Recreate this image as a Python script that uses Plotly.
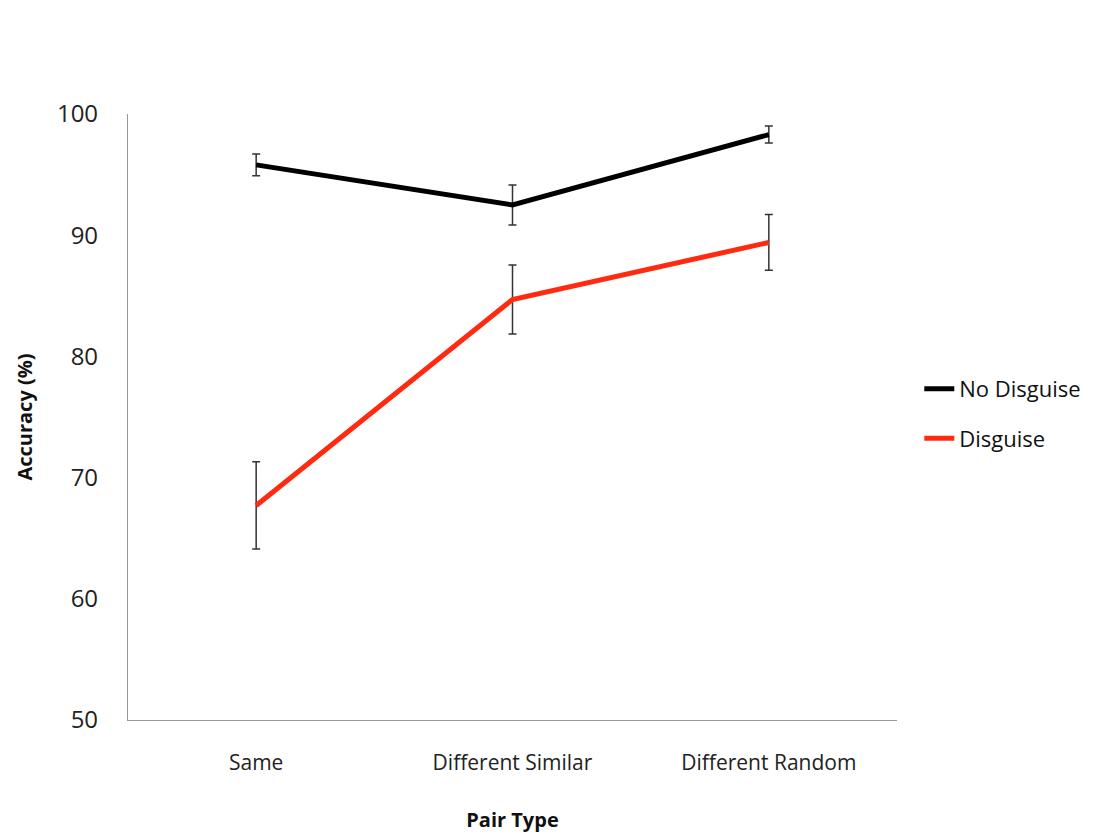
import plotly.graph_objects as go

categories = ["Same", "Different Similar", "Different Random"]
no_disguise = [95.8, 92.5, 98.3]
no_disguise_err = [0.9, 1.65, 0.7]
disguise = [67.7, 84.7, 89.4]
disguise_err = [3.6, 2.85, 2.3]
y_ticks = [50, 60, 70, 80, 90, 100]

FONT = "Open Sans"

fig = go.Figure()
fig.add_trace(go.Scatter(
    x=categories, y=no_disguise, mode="lines", name="No Disguise",
    legendgroup="a",
    line=dict(color="#000000", width=5),
    error_y=dict(type="data", array=no_disguise_err, visible=True,
                 color="#333333", thickness=1.5, width=4),
))
fig.add_trace(go.Scatter(
    x=categories, y=disguise, mode="lines", name="Disguise",
    legendgroup="b",
    line=dict(color="#ff2a10", width=5),
    error_y=dict(type="data", array=disguise_err, visible=True,
                 color="#333333", thickness=1.5, width=4),
))

fig.update_layout(
    width=1112, height=834,
    paper_bgcolor="white", plot_bgcolor="white",
    margin=dict(l=120, r=223, t=106, b=122, autoexpand=False),
    font=dict(family=FONT, color="#222222"),
    showlegend=True,
    legend=dict(x=1.029, y=0.505, xanchor="left", yanchor="middle",
                font=dict(size=22, color="#111111", family=FONT),
                itemwidth=30, tracegroupgap=18, bgcolor="rgba(0,0,0,0)"),
    xaxis=dict(
        type="category", range=[-0.5, 2.5], automargin=False,
        showline=True, linecolor="#999999", linewidth=1.2,
        showgrid=False, zeroline=False, ticks="",
        tickfont=dict(size=21, color="#222222"),
        ticklabelstandoff=24,
        title=dict(text="<b>Pair Type</b>", font=dict(size=20, color="#111111"), standoff=37),
    ),
    yaxis=dict(
        range=[50, 100], tickvals=y_ticks, automargin=False,
        showline=True, linecolor="#999999", linewidth=1.2,
        showgrid=False, zeroline=False, ticks="",
        tickfont=dict(size=24, color="#222222"),
        ticklabelstandoff=24,
        title=dict(text="<b>Accuracy (%)</b>", font=dict(size=20, color="#111111"), standoff=18),
    ),
)

fig.write_html("out.html")
